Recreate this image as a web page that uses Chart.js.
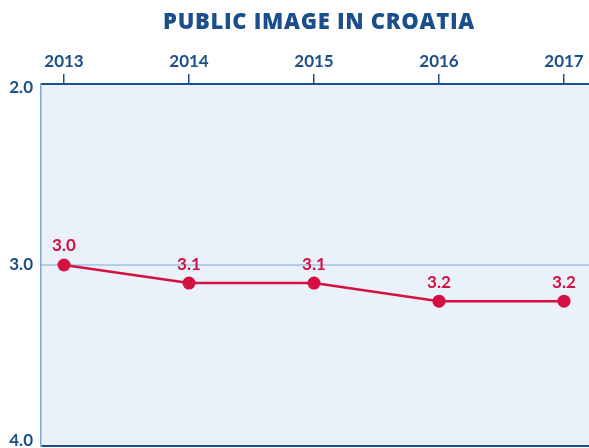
<!DOCTYPE html>
<html>
<head>
<meta charset="utf-8">
<script src="https://cdn.jsdelivr.net/npm/chart.js@4/dist/chart.umd.min.js"></script>
<style>
  html, body { margin: 0; padding: 0; background: #ffffff; }
  #wrap { width: 589px; height: 448px; }
</style>
</head>
<body>
<div id="wrap"><canvas id="c" width="589" height="448"></canvas></div>
<script>
// Survey years and the public image score for each year (lower is better)
const years = [2013, 2014, 2015, 2016, 2017];
const scores = [3.0, 3.1, 3.1, 3.2, 3.2];
const scoreTicks = [2.0, 3.0, 4.0];
const chartTitle = 'PUBLIC IMAGE IN CROATIA';

const BLUE = '#1b4e8c';
const RED = '#d3103f';
const FONT = 'Lato, "Open Sans", sans-serif';

// Light blue panel behind the plot
const panelBg = {
  id: 'panelBg',
  beforeDraw(chart) {
    const { ctx, chartArea: a } = chart;
    ctx.save();
    ctx.fillStyle = '#eaf1fa';
    ctx.fillRect(a.left, a.top, a.right - a.left, a.bottom - a.top);
    ctx.restore();
  }
};

// Heading above the year axis, and score labels kept inside the panel's height
const heading = {
  id: 'heading',
  afterDraw(chart) {
    const { ctx, chartArea: a } = chart;
    const yScale = chart.scales.y;
    ctx.save();
    ctx.fillStyle = BLUE;
    ctx.font = '800 22px "Open Sans", sans-serif';
    ctx.letterSpacing = '0.7px';
    ctx.textAlign = 'center';
    ctx.textBaseline = 'middle';
    ctx.fillText(chartTitle, (a.left + a.right) / 2 + 4, 23);
    ctx.letterSpacing = '0px';

    ctx.font = 'bold 17px ' + FONT;
    ctx.textAlign = 'right';
    scoreTicks.forEach(v => {
      let y = yScale.getPixelForValue(v);
      y = Math.min(Math.max(y, a.top + 4), a.bottom - 5);
      ctx.fillText(v.toFixed(1), a.left - 8, y);
    });
    ctx.restore();
  }
};

// Score printed above each point
const valueLabels = {
  id: 'valueLabels',
  afterDatasetsDraw(chart) {
    const { ctx } = chart;
    const meta = chart.getDatasetMeta(0);
    ctx.save();
    ctx.fillStyle = RED;
    ctx.font = 'bold 17px ' + FONT;
    ctx.textAlign = 'center';
    ctx.textBaseline = 'middle';
    meta.data.forEach((pt, i) => {
      ctx.fillText(scores[i].toFixed(1), pt.x, pt.y - 19);
    });
    ctx.restore();
  }
};

new Chart(document.getElementById('c'), {
  type: 'line',
  data: {
    datasets: [{
      data: years.map((y, i) => ({ x: y, y: scores[i] })),
      borderColor: RED,
      backgroundColor: RED,
      borderWidth: 2.5,
      pointRadius: 6.5,
      pointHoverRadius: 6.5,
      pointBorderWidth: 0,
      tension: 0
    }]
  },
  options: {
    responsive: false,
    animation: false,
    layout: { autoPadding: false, padding: { top: 0, right: 0, bottom: 2, left: 0 } },
    plugins: {
      legend: { display: false },
      title: { display: false },
      tooltip: { enabled: false }
    },
    scales: {
      x: {
        type: 'linear',
        position: 'top',
        min: 2012.816,
        max: 2017.2,
        afterBuildTicks(scale) { scale.ticks = years.map(v => ({ value: v })); },
        afterFit(scale) {
          scale.height = 84;
          scale.paddingLeft = 0;
          scale.paddingRight = 0;
        },
        ticks: {
          color: BLUE,
          font: { family: FONT, size: 17, weight: 'bold' },
          padding: 2,
          maxRotation: 0,
          callback: v => String(v)
        },
        grid: {
          drawOnChartArea: false,
          drawTicks: true,
          tickLength: 10,
          color: BLUE,
          lineWidth: 1.5
        },
        border: { display: true, color: BLUE, width: 2 }
      },
      y: {
        type: 'linear',
        reverse: true,
        min: 2,
        max: 4,
        afterBuildTicks(scale) { scale.ticks = scoreTicks.map(v => ({ value: v })); },
        afterFit(scale) {
          scale.width = 41;
          scale.paddingTop = 0;
          scale.paddingBottom = 0;
        },
        ticks: { display: false },
        grid: {
          drawTicks: false,
          color: ctx => ctx.tick && ctx.tick.value === 3 ? '#b3cdea' : (ctx.tick && ctx.tick.value === 4 ? BLUE : 'rgba(0,0,0,0)'),
          lineWidth: 2
        },
        border: { display: true, color: '#7ea5d2', width: 1.5 }
      }
    }
  },
  plugins: [panelBg, heading, valueLabels]
});
</script>
</body>
</html>
